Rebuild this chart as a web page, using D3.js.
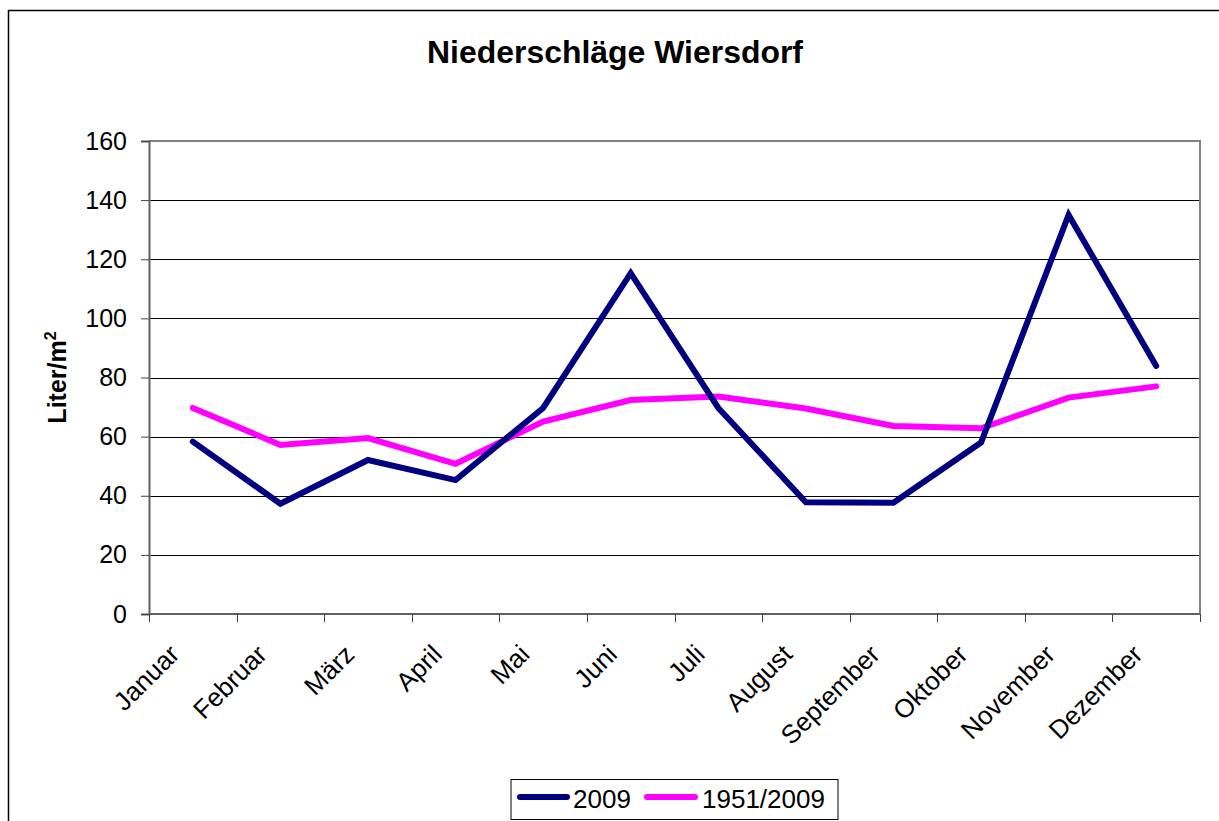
<!DOCTYPE html>
<html><head><meta charset="utf-8">
<script src="https://cdn.jsdelivr.net/npm/d3@7"></script>
<style>body{margin:0;background:#fff}svg{display:block;font-family:Arial,"Liberation Sans",sans-serif}</style>
</head><body><svg id="c" width="1219" height="821"></svg>
<script>
const months = ["Januar","Februar","März","April","Mai","Juni","Juli","August","September","Oktober","November","Dezember"];
const values2009 = [58.3,37.3,52.1,45.3,69.7,115.3,69.7,37.8,37.6,58.0,135.0,83.9];
const valuesAvg = [69.7,57.2,59.5,50.8,65.1,72.4,73.6,69.5,63.6,62.8,73.2,77.0];
const yTicks = [0,20,40,60,80,100,120,140,160];
const seriesNames = ["2009","1951/2009"];
const seriesColors = ["#000080","#ff00ff"];

const svg = d3.select("#c");
const L=149, R=1200, T=141, B=614;
const x = d3.scaleBand().domain(months).range([L,R]);
const y = d3.scaleLinear().domain([0,160]).range([B,T]);

// outer frame
svg.append("rect").attr("x",8.5).attr("y",10.5).attr("width",1240).attr("height",840)
  .attr("fill","none").attr("stroke","#000").attr("stroke-width",1.5);

// title
svg.append("text").attr("x",615).attr("y",63).attr("text-anchor","middle")
  .attr("font-size",31).attr("font-weight","bold")
  .attr("textLength",376).attr("lengthAdjust","spacingAndGlyphs")
  .text("Niederschläge Wiersdorf");

// gridlines
svg.append("g").selectAll("line").data(yTicks.filter(d=>d>0&&d<160)).join("line")
  .attr("x1",L).attr("x2",R).attr("y1",d=>Math.round(y(d))+0.5).attr("y2",d=>Math.round(y(d))+0.5)
  .attr("stroke","#000").attr("stroke-width",1);

// plot border top/right
svg.append("path").attr("d",`M${L},${T}H${R}V${B}`).attr("fill","none").attr("stroke","#808080").attr("stroke-width",2);

// y axis
const ya = svg.append("g").attr("transform",`translate(${L},0)`)
  .call(d3.axisLeft(y).tickValues(yTicks).tickSize(8).tickPadding(14));
ya.select(".domain").attr("stroke","#606060").attr("stroke-width",2);
ya.selectAll(".tick line").attr("stroke","#404040");
ya.selectAll("text").attr("font-size",25).attr("font-family","Arial, 'Liberation Sans', sans-serif").attr("fill","#000");

// x axis
const boundaries = d3.range(13);
const xa = svg.append("g");
xa.append("line").attr("x1",L).attr("x2",R).attr("y1",B).attr("y2",B).attr("stroke","#606060").attr("stroke-width",2);
xa.selectAll("line.tk").data(boundaries).join("line").attr("class","tk")
  .attr("x1",i=>Math.round(L+i*x.step())+0.5).attr("x2",i=>Math.round(L+i*x.step())+0.5)
  .attr("y1",B).attr("y2",B+8).attr("stroke","#404040");
xa.selectAll("text").data(months).join("text")
  .attr("transform",d=>`translate(${x(d)+x.bandwidth()/2-12},${B+42}) rotate(-45)`)
  .attr("text-anchor","end").attr("font-size",26).text(d=>d);

// y label
svg.append("text").attr("transform",`translate(66,${(T+B)/2}) rotate(-90)`)
  .attr("text-anchor","middle").attr("font-size",25).attr("font-weight","bold")
  .html('Liter/m<tspan dy="-10" font-size="16">2</tspan>');

// lines
const line = d3.line().x((d,i)=>x(months[i])+x.bandwidth()/2).y(d=>y(d));
[valuesAvg, values2009].forEach((vals,k)=>{
  const idx = k===0?1:0;
  svg.append("path").attr("d",line(vals)).attr("fill","none")
    .attr("stroke",seriesColors[idx]).attr("stroke-width",6)
    .attr("stroke-linejoin","miter").attr("stroke-linecap","round");
});

// legend
const lg = svg.append("g");
lg.append("rect").attr("x",511).attr("y",779.5).attr("width",327).attr("height",40)
  .attr("fill","#fff").attr("stroke","#000").attr("stroke-width",1);
const legendX = [[517,570,573],[644,698,702]];
seriesNames.forEach((n,i)=>{
  lg.append("line").attr("x1",legendX[i][0]+3).attr("x2",legendX[i][1]-3).attr("y1",797).attr("y2",797)
    .attr("stroke",seriesColors[i]).attr("stroke-width",6).attr("stroke-linecap","round");
  lg.append("text").attr("x",legendX[i][2]).attr("y",808).attr("font-size",26).text(n);
});
</script></body></html>
